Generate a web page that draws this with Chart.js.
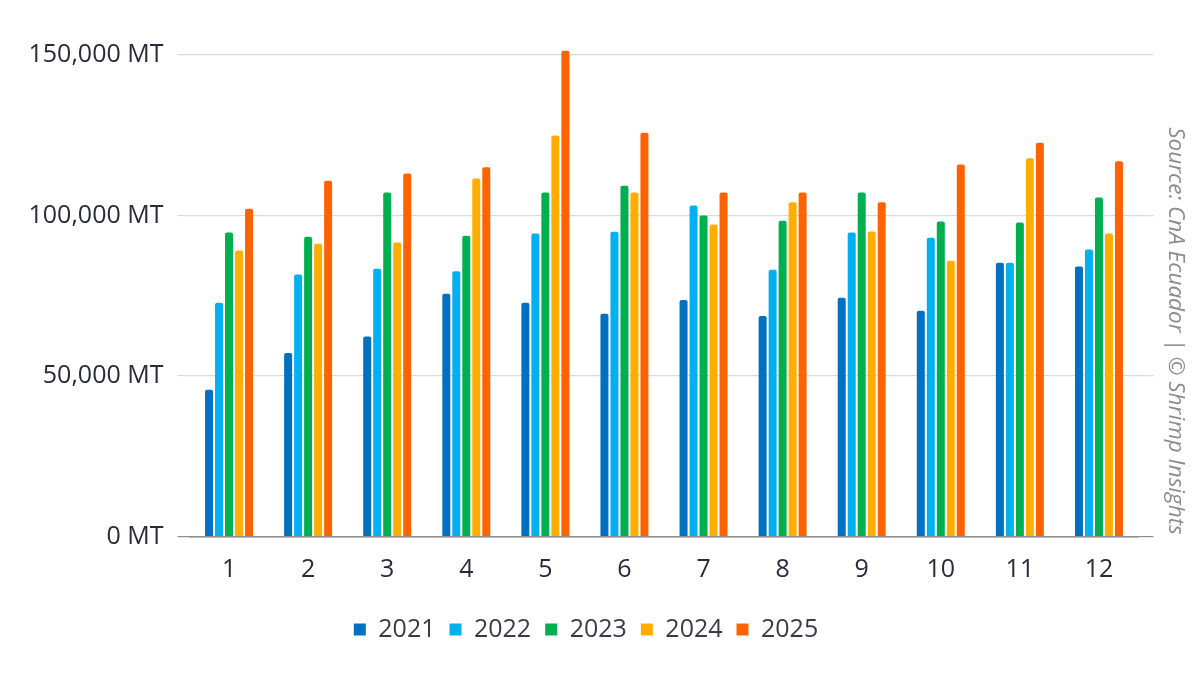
<!DOCTYPE html>
<html>
<head>
<meta charset="utf-8">
<script src="https://cdn.jsdelivr.net/npm/chart.js@4.4.1/dist/chart.umd.min.js"></script>
<style>
html,body{margin:0;padding:0;background:#fff;}
#wrap{width:1200px;height:675px;position:relative;}
</style>
</head>
<body>
<div id="wrap"><canvas id="c" width="1200" height="675"></canvas></div>
<script>
const months = ['1','2','3','4','5','6','7','8','9','10','11','12'];
const years = ['2021','2022','2023','2024','2025'];
const v2021 = [45700, 57200, 62300, 75600, 72800, 69400, 73700, 68700, 74400, 70300, 85300, 84100];
const v2022 = [72800, 81600, 83400, 82600, 94400, 94900, 103100, 83100, 94700, 93100, 85300, 89400];
const v2023 = [94700, 93400, 107200, 93700, 107200, 109300, 100000, 98400, 107200, 98100, 97800, 105600];
const v2024 = [89100, 91200, 91600, 111500, 124900, 107200, 97200, 104100, 95000, 85900, 117800, 94400];
const v2025 = [102100, 110800, 113100, 115000, 151300, 125800, 107200, 107200, 104100, 115900, 122700, 116900];
const yTicks = [0, 50000, 100000, 150000];
const colors = ['#0070c0', '#00b0f0', '#00b050', '#ffae00', '#ff6300'];
const sourceText = 'Source: CnA Ecuador | © Shrimp Insights';

const series = [v2021, v2022, v2023, v2024, v2025];
const FONT = "'Open Sans', 'Noto Sans', sans-serif";

const sourcePlugin = {
  id: 'sourceText',
  afterDraw(chart) {
    const ctx = chart.ctx;
    ctx.save();
    ctx.translate(1175, 331);
    ctx.rotate(Math.PI / 2);
    ctx.font = "italic 22.5px " + FONT;
    ctx.fillStyle = '#8c8c8c';
    ctx.textAlign = 'center';
    ctx.textBaseline = 'middle';
    ctx.fillText(sourceText, 0, 0);
    ctx.restore();
  }
};

const gridColor = (c) => (c.tick && c.tick.value === 0) ? '#8f8f8f' : '#d9d9d9';

new Chart(document.getElementById('c'), {
  type: 'bar',
  data: {
    labels: months,
    datasets: years.map((y, i) => ({
      label: y,
      data: series[i],
      backgroundColor: colors[i],
      borderRadius: {topLeft: 2, topRight: 2, bottomLeft: 0, bottomRight: 0},
      borderSkipped: 'bottom',
      categoryPercentage: 0.632,
      barPercentage: 0.8,
      clip: false
    }))
  },
  options: {
    responsive: false,
    animation: false,
    devicePixelRatio: 1,
    layout: { padding: { top: 55, left: 0, right: 28, bottom: 23 } },
    plugins: {
      legend: {
        position: 'bottom',
        labels: {
          boxWidth: 12, boxHeight: 12, padding: 14,
          color: '#3a3a48',
          font: { family: FONT, size: 25 }
        }
      },
      tooltip: { enabled: false }
    },
    scales: {
      x: {
        grid: { display: false },
        border: { display: true, color: '#8f8f8f', width: 1.5 },
        ticks: { color: '#2a2a3a', font: { family: FONT, size: 25 }, padding: 10.5, maxRotation: 0 },
        afterFit(s) { s.height = 66.5; }
      },
      y: {
        min: 0, max: 150000,
        afterBuildTicks(s) { s.ticks = yTicks.map(v => ({ value: v })); },
        grid: { color: gridColor, lineWidth: 1.2, tickLength: 12, drawTicks: true },
        border: { display: false },
        ticks: {
          color: '#2a2a3a', padding: 14,
          font: { family: FONT, size: 25 },
          callback: (v) => v.toLocaleString('en-US') + ' MT'
        },
        afterFit(s) { s.width = 189.5; }
      },
      y2: {
        position: 'right',
        min: 0, max: 150000,
        afterBuildTicks(s) { s.ticks = yTicks.map(v => ({ value: v })); },
        grid: { color: gridColor, lineWidth: 1.2, tickLength: 15, drawOnChartArea: false, drawTicks: true },
        border: { display: false },
        ticks: { display: false },
        afterFit(s) { s.width = 33.5; }
      }
    }
  },
  plugins: [sourcePlugin]
});
</script>
</body>
</html>
